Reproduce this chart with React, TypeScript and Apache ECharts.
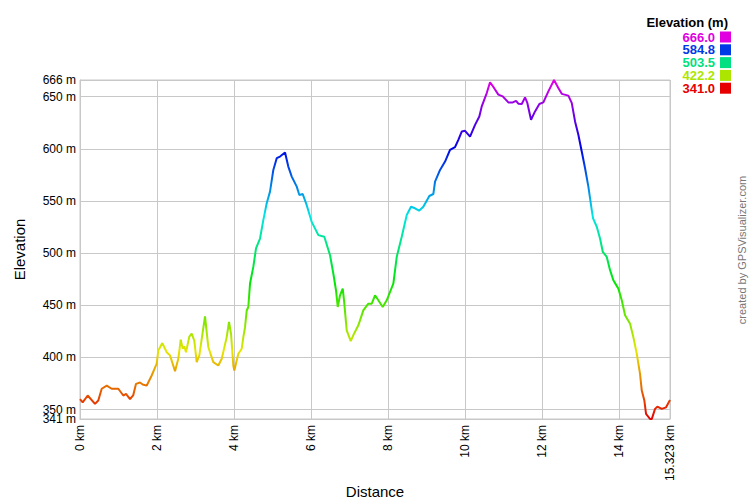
import React, { useEffect, useRef } from "react";
import * as echarts from "echarts";

const distanceKm = [
  0.0, 0.07, 0.2, 0.39, 0.475, 0.564, 0.694, 0.823, 0.995, 1.125, 1.195, 1.299, 1.384, 1.455, 1.558, 1.629,
  1.732, 1.862, 1.992, 2.034, 2.138, 2.252, 2.338, 2.468, 2.553, 2.616, 2.668, 2.709, 2.753, 2.839, 2.901,
  2.969, 3.031, 3.099, 3.187, 3.247, 3.332, 3.462, 3.592, 3.681, 3.81, 3.87, 3.922, 3.982, 4.008, 4.07,
  4.112, 4.2, 4.242, 4.286, 4.33, 4.371, 4.416, 4.501, 4.571, 4.675, 4.761, 4.849, 4.935, 5.021, 5.109,
  5.195, 5.325, 5.41, 5.499, 5.629, 5.696, 5.784, 5.888, 6.018, 6.19, 6.345, 6.494, 6.579, 6.649, 6.694,
  6.753, 6.823, 6.857, 6.927, 7.031, 7.117, 7.229, 7.358, 7.488, 7.577, 7.662, 7.748, 7.862, 7.966, 8.138,
  8.226, 8.356, 8.486, 8.597, 8.701, 8.805, 8.917, 9.073, 9.177, 9.221, 9.351, 9.481, 9.61, 9.74, 9.826,
  9.914, 10.0, 10.13, 10.26, 10.371, 10.434, 10.564, 10.649, 10.753, 10.865, 10.979, 11.125, 11.239,
  11.325, 11.384, 11.473, 11.558, 11.618, 11.714, 11.818, 11.93, 12.034, 12.164, 12.312, 12.423, 12.512,
  12.683, 12.771, 12.857, 12.943, 13.031, 13.117, 13.203, 13.291, 13.325, 13.421, 13.506, 13.577, 13.681,
  13.766, 13.852, 13.982, 14.07, 14.156, 14.286, 14.371, 14.46, 14.545, 14.59, 14.657, 14.701, 14.805,
  14.85, 14.935, 14.995, 15.109, 15.221, 15.323,
];

const elevationM = [
  360, 357, 363.5, 355.5, 358.7, 370, 373, 370, 370, 363.5, 365, 360, 364, 374.7, 376, 374,
  373, 382.7, 394, 406.7, 413.8, 405, 402, 386.8, 398.7, 417, 408.4, 410.6, 405, 420, 422.8,
  416, 395.5, 402, 424.3, 439.4, 410, 395.5, 392.3, 398.7, 419.5, 434, 422.8, 392.3, 387.5, 397,
  403.5, 408.4, 419.5, 429, 445, 448.4, 470.9, 486.8, 504.5, 514, 531.7, 547.8, 559, 579.8, 591,
  592.6, 596.5, 583, 573.4, 563.8, 555.8, 556.7, 546, 530, 517.3, 515.7, 498, 480.5, 464.4, 448.4,
  459.6, 466, 454.8, 426, 415.7, 422.8, 430.8, 445.2, 451.6, 451.6, 459.6, 454.8, 448.4, 454.8, 470.9,
  496.4, 515.7, 536.5, 544.5, 543, 540.7, 544.5, 554.8, 556.7, 568.6, 579.8, 587.8, 599, 601.6, 608.6,
  616.6, 617.3, 611.8, 623, 631, 640.7, 653.5, 663.8, 658.4, 652, 650.3, 644.5, 644.5,
  646, 643.3, 643, 649.3, 644, 627.9, 635.9, 643, 644.5, 655.1, 666, 658.4, 652.7,
  651, 644, 626.3, 613.5, 597.4, 581.4, 563.8, 541.3, 533.4, 525.3, 514, 501.3, 496.4,
  483.7, 474, 466, 454.8, 440.4, 432.4, 419.5, 403.5, 384.3, 368.3, 358.7, 345.9, 341,
  341, 350.7, 352.9, 350.7, 352.2, 359.3,
];

const xTicks = [0, 2, 4, 6, 8, 10, 12, 14, 15.323];
const yTicks = [350, 400, 450, 500, 550, 600, 650, 666];
const yMinTick = [341];

const legendValues = ["666.0", "584.8", "503.5", "422.2", "341.0"];
const legendColors = ["#e000e0", "#0039e6", "#00e080", "#ace600", "#e60000"];
const rampColors = ["#e60000", "#e6e600", "#00e600", "#00e6e6", "#0000e6", "#e600e6"];

const FONT = "Liberation Sans, Arial, sans-serif";

export default function App() {
  const ref = useRef<HTMLDivElement>(null);

  useEffect(() => {
    document.body.style.margin = "0";
    if (!ref.current) return;
    const chart = echarts.init(ref.current, null, { renderer: "svg" });

    const data = distanceKm.map((d, i) => [d, elevationM[i]]);

    const legendGraphics: any[] = [
      {
        type: "text",
        x: 728,
        y: 22,
        style: {
          text: "Elevation (m)",
          font: `bold 13px ${FONT}`,
          fill: "#000",
          align: "right",
          verticalAlign: "middle",
          lineHeight: 12,
        },
      },
    ];
    legendValues.forEach((v, i) => {
      const cy = 37 + i * 12.8;
      legendGraphics.push({
        type: "text",
        x: 715,
        y: cy,
        style: {
          text: v,
          font: `bold 13px ${FONT}`,
          fill: legendColors[i],
          align: "right",
          verticalAlign: "middle",
          lineHeight: 11,
        },
      });
      legendGraphics.push({
        type: "rect",
        shape: { x: 720, y: cy - 5.5, width: 11, height: 11 },
        style: { fill: legendColors[i] },
      });
    });
    legendGraphics.push({
      type: "text",
      x: 742,
      y: 250,
      rotation: Math.PI / 2,
      style: {
        text: "created by GPSVisualizer.com",
        font: `11px ${FONT}`,
        fill: "#777",
        align: "center",
        verticalAlign: "middle",
      },
    });

    const yLabelBase = {
      showMinLabel: true,
      showMaxLabel: true,
      hideOverlap: false,
      margin: 4,
      fontSize: 12,
      color: "#000",
      fontFamily: FONT,
      formatter: (v: number) => `${v} m`,
    };

    chart.setOption({
      animation: false,
      backgroundColor: "#fff",
      textStyle: { fontFamily: FONT },
      grid: {
        left: 80,
        right: 80,
        top: 80,
        bottom: 81,
        show: true,
        borderColor: "#c8c8c8",
        borderWidth: 1,
        containLabel: false,
        outerBoundsMode: "none",
      },
      visualMap: {
        type: "continuous",
        show: false,
        dimension: 1,
        seriesIndex: 0,
        min: 341,
        max: 666,
        inRange: { color: rampColors },
      },
      xAxis: {
        type: "value",
        min: 0,
        max: 15.323,
        name: "Distance",
        nameLocation: "middle",
        nameGap: 65,
        nameMoveOverlap: false,
        nameTextStyle: { fontSize: 15, color: "#000", fontFamily: FONT },
        axisLine: { show: true, lineStyle: { color: "#c8c8c8" } },
        axisTick: { show: false, customValues: xTicks },
        axisLabel: {
          customValues: xTicks,
          showMinLabel: true,
          showMaxLabel: true,
          hideOverlap: false,
          rotate: 90,
          margin: 6,
          fontSize: 12,
          color: "#000",
          fontFamily: FONT,
          formatter: (v: number) => `${v} km`,
        },
        splitLine: { show: true, lineStyle: { color: "#c8c8c8" } },
      },
      yAxis: [
        {
          type: "value",
          min: 341,
          max: 666,
          name: "Elevation",
          nameLocation: "middle",
          nameGap: 53,
          nameMoveOverlap: false,
          nameTextStyle: { fontSize: 15, color: "#000", fontFamily: FONT },
          axisLine: { show: true, lineStyle: { color: "#c8c8c8" } },
          axisTick: { show: false, customValues: yTicks },
          axisLabel: { ...yLabelBase, customValues: yTicks },
          splitLine: { show: true, lineStyle: { color: "#c8c8c8" } },
        },
        {
          type: "value",
          position: "left",
          min: 341,
          max: 666,
          axisLine: { show: false },
          axisTick: { show: false, customValues: yMinTick },
          axisLabel: { ...yLabelBase, customValues: yMinTick },
          splitLine: { show: false },
        },
      ],
      series: [
        {
          type: "line",
          data,
          showSymbol: false,
          symbol: "none",
          lineStyle: { width: 2 },
        },
      ],
      graphic: legendGraphics,
    });

    return () => chart.dispose();
  }, []);

  return <div ref={ref} style={{ width: 750, height: 500 }} />;
}
